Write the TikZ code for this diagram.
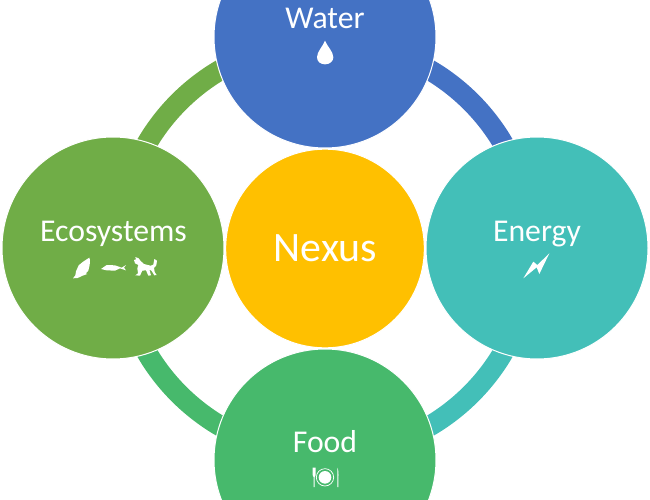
\documentclass[tikz,border=0pt]{standalone}
\usepackage{fontspec}
\setmainfont{Carlito}
\definecolor{cwater}{HTML}{4472C4}
\definecolor{cenergy}{HTML}{43BFB8}
\definecolor{cfood}{HTML}{47B96C}
\definecolor{ceco}{HTML}{70AD47}
\definecolor{cnexus}{HTML}{FFC000}
\tikzset{
  big/.style={circle,draw=white,line width=0.75pt,minimum size=166.5pt,inner sep=0pt},
  hub/.style={circle,draw=white,line width=0.75pt,minimum size=149pt,inner sep=0pt},
  band/.style={line width=15.5pt,line cap=butt},
  lbl/.style={text=white,font=\fontsize{23.8pt}{28pt}\selectfont,inner sep=0pt,anchor=base},
  hublbl/.style={text=white,font=\fontsize{31.4pt}{36pt}\selectfont,inner sep=0pt,anchor=base},
  icon/.style={fill=white,draw=none},
  iconline/.style={draw=white,fill=none}
}
\begin{document}
\begin{tikzpicture}[x=0.75pt,y=-0.75pt]
\useasboundingbox (0,0) rectangle (650,500);
\clip (0,0) rectangle (650,500);
\coordinate (rtop) at (325,41.5);
\coordinate (rright) at (531.5,248);
\coordinate (rbottom) at (325,454.5);
\coordinate (rleft) at (118.5,248);
% ring segments
\draw[band,cwater] (rtop) arc[start angle=90,end angle=0,radius=154.875pt];
\draw[band,cenergy] (rright) arc[start angle=0,end angle=-90,radius=154.875pt];
\draw[band,cfood] (rbottom) arc[start angle=-90,end angle=-180,radius=154.875pt];
\draw[band,ceco] (rleft) arc[start angle=180,end angle=90,radius=154.875pt];
% discs
\node[big,fill=cwater] (water) at (325,37) {};
\node[big,fill=cenergy] (energy) at (537,248) {};
\node[big,fill=cfood] (food) at (325,460) {};
\node[big,fill=ceco] (eco) at (113,248) {};
\node[hub,fill=cnexus] (nexus) at (325,248.5) {};
% labels
\node[lbl] (twater) at (325,28) {Water};
\node[lbl] (tenergy) at (537,241) {Energy};
\node[lbl] (tfood) at (325,452) {Food};
\node[lbl] (teco) at (113.5,241) {Ecosystems};
\node[hublbl] (tnexus) at (325.5,261.5) {Nexus};
% drop
\begin{scope}[shift={(270,0)},x=.25pt,y=-.25pt]
\fill[icon] (165,122) .. controls (172,140) and (190,155) .. (190,172)
  .. controls (190,185) and (178,193) .. (165,193)
  .. controls (152,193) and (141,185) .. (141,172)
  .. controls (141,155) and (158,140) .. (165,122) -- cycle;
\end{scope}
% bolt
\begin{scope}[shift={(480,210)},x=.25pt,y=-.25pt]
\fill[icon] (208,130) -- (178,192) -- (170,172) -- (130,205) -- (160,155) -- (172,165) -- cycle;
\end{scope}
% plate
\begin{scope}[shift={(270,420)},x=.25pt,y=-.25pt]
\draw[iconline,line width=.55pt] (165,172) circle[radius=26];
\fill[icon] (165,172) circle[radius=19];
\fill[icon] (128,143) -- (137,143) -- (137,165) -- (134,172) -- (134,201) -- (131,201) -- (131,172) -- (128,165) -- cycle;
\fill[icon] (202,143) .. controls (206,150) and (206,165) .. (205,172) -- (205,201) -- (202,201) -- cycle;
\end{scope}
% animals
\begin{scope}[shift={(40,200)},x=.25pt,y=-.25pt]
% bird
\fill[icon] (140,178) -- (148,173) -- (150,180) -- (149,195) -- (145,212) -- (137,220) -- (142,222) -- (128,227) -- (113,234) -- (99,235) -- (106,226) -- (108,214) -- (116,196) -- (128,186) -- cycle;
% fish
\fill[icon] (183,207) -- (200,195) -- (225,196) -- (245,203) -- (258,195) -- (252,203) -- (258,211) -- (240,205) -- (225,212) -- (200,211) -- cycle;
% dog
\fill[icon] (282,180) -- (288,178) -- (286,171) -- (296,175) -- (302,183) -- (312,192) -- (332,197) -- (340,194) -- (343,177) -- (351,182) -- (349,196) -- (342,204) -- (344,216) -- (350,225) -- (343,226) -- (335,213) -- (328,208) -- (333,226) -- (325,227) -- (318,211) -- (307,212) -- (300,227) -- (286,226) -- (294,220) -- (292,205) -- (295,195) -- (285,190) -- cycle;
\end{scope}
\end{tikzpicture}
\end{document}
